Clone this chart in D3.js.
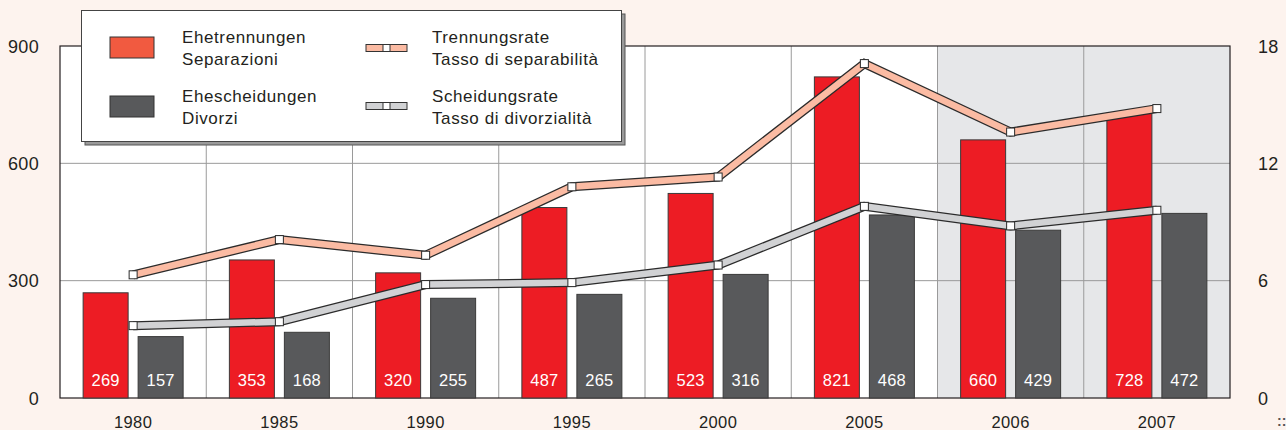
<!DOCTYPE html>
<html><head><meta charset="utf-8">
<script src="https://cdn.jsdelivr.net/npm/d3@7"></script>
<style>
body{margin:0;background:#fdf3ee;}
svg{display:block;font-family:"Liberation Sans",Arial,sans-serif;}
</style></head>
<body><svg id="c" width="1286" height="430"></svg>
<script>
const years = ["1980","1985","1990","1995","2000","2005","2006","2007"];
const separations = [269,353,320,487,523,821,660,728];
const divorces = [157,168,255,265,316,468,429,472];
const separationRate = [6.3,8.1,7.3,10.8,11.3,17.1,13.6,14.8];
const divorceRate = [3.7,3.9,5.8,5.9,6.8,9.8,8.8,9.6];
const leftTicks = [0,300,600,900];
const rightTicks = [0,6,12,18];
const shadedYears = ["2006","2007"];

const svg = d3.select("#c");
const L=60,R=1230,T=46,B=398;
const x = d3.scaleBand().domain(years).range([L,R]);
const y = d3.scaleLinear().domain([0,900]).range([B,T]);
const y2 = d3.scaleLinear().domain([0,18]).range([B,T]);

svg.append("rect").attr("width",1286).attr("height",430).attr("fill","#fdf3ee");
svg.append("rect").attr("x",L).attr("y",T).attr("width",R-L).attr("height",B-T).attr("fill","#fff");
shadedYears.forEach(yr=>{
  svg.append("rect").attr("x",x(yr)).attr("y",T).attr("width",x.bandwidth()).attr("height",B-T).attr("fill","#e6e7e9");
});
// grid
const g = svg.append("g");
leftTicks.slice(1,-1).forEach(t=>g.append("line").attr("x1",L).attr("x2",R).attr("y1",y(t)).attr("y2",y(t)).attr("stroke","#9a9a9a").attr("stroke-width",1));
years.slice(1).forEach(yr=>g.append("line").attr("x1",x(yr)).attr("x2",x(yr)).attr("y1",T).attr("y2",B).attr("stroke","#9a9a9a").attr("stroke-width",1));
svg.append("rect").attr("x",L).attr("y",T).attr("width",R-L).attr("height",B-T).attr("fill","none").attr("stroke","#231f20").attr("stroke-width",1.2);

// bars
const c = d => x(d)+x.bandwidth()/2;
const bw = 45;
svg.selectAll(".sep").data(years).join("rect")
  .attr("x",d=>c(d)-5-bw).attr("width",bw)
  .attr("y",(d,i)=>y(separations[i])).attr("height",(d,i)=>B-y(separations[i]))
  .attr("fill","#ed1c24").attr("stroke","#3a3a3a").attr("stroke-width",1);
svg.selectAll(".div").data(years).join("rect")
  .attr("x",d=>c(d)+5).attr("width",bw)
  .attr("y",(d,i)=>y(divorces[i])).attr("height",(d,i)=>B-y(divorces[i]))
  .attr("fill","#58595b").attr("stroke","#3a3a3a").attr("stroke-width",1);
svg.selectAll(".sl").data(years).join("text")
  .attr("x",d=>c(d)-5-bw/2).attr("y",386).attr("text-anchor","middle")
  .attr("fill","#fff").attr("font-size",16.5).attr("letter-spacing",0.3).text((d,i)=>separations[i]);
svg.selectAll(".dl").data(years).join("text")
  .attr("x",d=>c(d)+5+bw/2).attr("y",386).attr("text-anchor","middle")
  .attr("fill","#fff").attr("font-size",16.5).attr("letter-spacing",0.3).text((d,i)=>divorces[i]);

// lines
function band(vals, fill){
  const line = d3.line().x((d,i)=>c(years[i])).y(d=>y2(d));
  svg.append("path").attr("d",line(vals)).attr("fill","none").attr("stroke","#2b2b2b").attr("stroke-width",9).attr("stroke-linejoin","miter");
  svg.append("path").attr("d",line(vals)).attr("fill","none").attr("stroke",fill).attr("stroke-width",6.5).attr("stroke-linejoin","miter");
  svg.selectAll(null).data(vals).join("rect")
    .attr("x",(d,i)=>c(years[i])-4).attr("y",d=>y2(d)-4).attr("width",8).attr("height",8)
    .attr("fill","#fff").attr("stroke","#2b2b2b").attr("stroke-width",1);
}
band(separationRate,"#fbbba3");
band(divorceRate,"#d1d2d4");

// axes
svg.selectAll(".lt").data(leftTicks).join("text").attr("x",39).attr("y",d=>y(d)+6.5).attr("text-anchor","end").attr("font-size",18).attr("letter-spacing",0.3).attr("fill","#231f20").text(d=>d);
svg.selectAll(".rt").data(rightTicks).join("text").attr("x",1258).attr("y",d=>y2(d)+6.5).attr("text-anchor","start").attr("font-size",18).attr("letter-spacing",0.3).attr("fill","#231f20").text(d=>d);
svg.selectAll(".xt").data(years).join("text").attr("x",d=>c(d)).attr("y",428).attr("text-anchor","middle").attr("font-size",16.5).attr("letter-spacing",0.4).attr("fill","#231f20").text(d=>d);
svg.append("text").attr("x",1277).attr("y",426).attr("font-size",14).attr("font-weight","bold").attr("fill","#555").text("::");

// legend
const lg = svg.append("g");
lg.append("rect").attr("x",85).attr("y",14).attr("width",540).attr("height",131).attr("fill","#9a9a9a").attr("stroke","#555");
lg.append("rect").attr("x",81.5).attr("y",10.5).attr("width",540).attr("height",131).attr("fill","#fff").attr("stroke","#444");
lg.append("rect").attr("x",110).attr("y",37).attr("width",44).attr("height",21).attr("fill","#f15a40").attr("stroke","#333").attr("stroke-width",1);
lg.append("rect").attr("x",110).attr("y",96).attr("width",44).attr("height",21).attr("fill","#58595b").attr("stroke","#333").attr("stroke-width",1);
function lsym(yy, fill){
  lg.append("rect").attr("x",366).attr("y",yy-3.5).attr("width",41).attr("height",7).attr("fill",fill).attr("stroke","#333");
  lg.append("rect").attr("x",383).attr("y",yy-3.5).attr("width",7).attr("height",7).attr("fill","#fff").attr("stroke","#333");
}
lsym(48,"#fbbba3"); lsym(106,"#d1d2d4");
const lt = [["Ehetrennungen",182,43],["Separazioni",182,65],["Ehescheidungen",182,102],["Divorzi",182,124],
            ["Trennungsrate",432,43],["Tasso di separabilità",432,65],["Scheidungsrate",432,102],["Tasso di divorzialità",432,124]];
lt.forEach(t=>lg.append("text").attr("x",t[1]).attr("y",t[2]).attr("font-size",17).attr("letter-spacing",0.6).attr("fill","#231f20").text(t[0]));
</script></body></html>
